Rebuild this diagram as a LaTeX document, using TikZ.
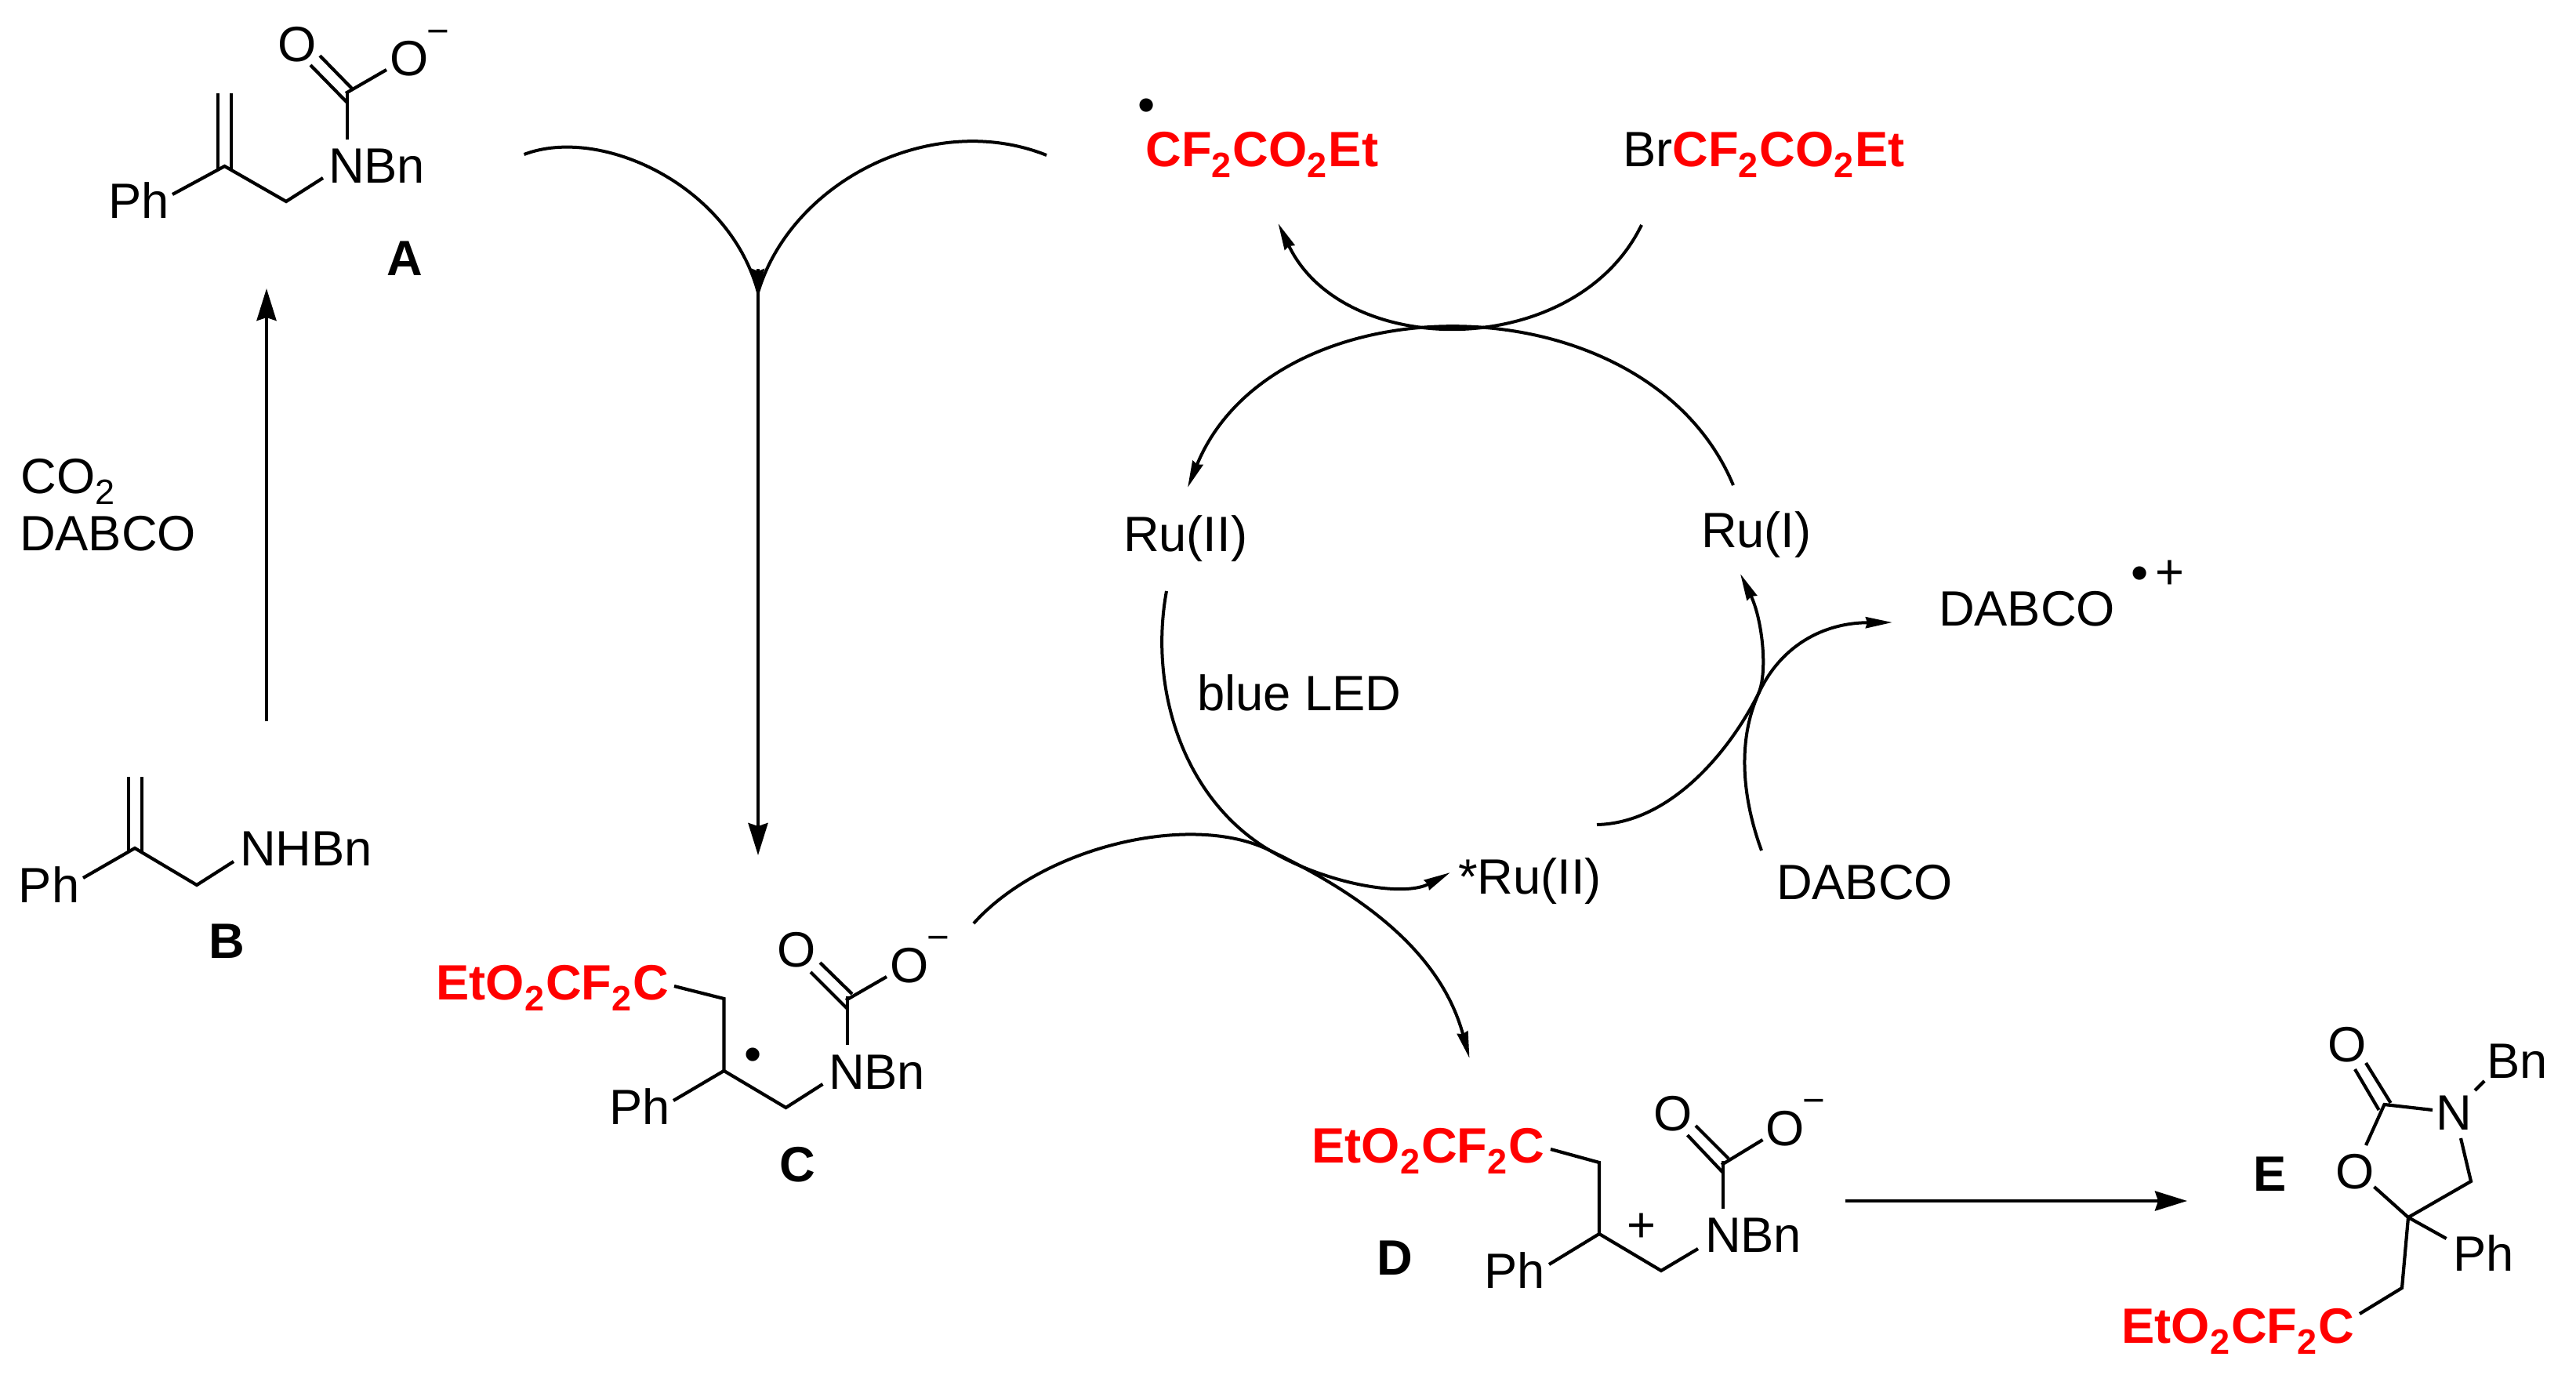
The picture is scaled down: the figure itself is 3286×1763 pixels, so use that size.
\documentclass[tikz,border=0pt]{standalone}
\usepackage{fontspec}
\setmainfont[Kerning=Off]{Liberation Sans}
\usetikzlibrary{arrows.meta}
\newcommand{\lowtwo}{\raisebox{-.14cm}{\fontsize{12.8}{14}\selectfont 2}\kern.02cm}
\newcommand{\redchain}{\textcolor{red}{\bfseries EtO\lowtwo CF\lowtwo C}}
\newcommand{\redester}{\textcolor{red}{\bfseries CF\lowtwo CO\lowtwo Et}}
\tikzset{
  txt/.style={anchor=base west,inner sep=0pt,outer sep=0pt,font=\fontsize{18}{20}\selectfont},
  lab/.style={txt,font=\fontsize{18}{20}\selectfont\bfseries},
  glyphmark/.style={anchor=center,inner sep=0pt,outer sep=0pt,font=\fontsize{18}{20}\selectfont},
  minusmark/.style={anchor=center,inner sep=0pt,outer sep=0pt,font=\fontsize{14}{16}\selectfont},
  bond/.style={line width=.042cm,line join=miter,line cap=butt},
  rxn/.style={line width=.04cm,-{Stealth[length=.41cm,width=.25cm,inset=.04cm]}},
  curly/.style={line width=.04cm,-{Stealth[length=.34cm,width=.14cm,inset=.02cm]}},
  arcline/.style={line width=.04cm},
}
\begin{document}
\begin{tikzpicture}[x=.01cm,y=-.01cm]
\useasboundingbox (0,0) rectangle (3286,1763);
% ---------- texts
\node[txt] (aPh) at (138,278) {Ph};
\node[txt] (aN) at (419,233) {NBn};
\node[txt] (aO1) at (354.5,78) {O};
\node[txt] (aO2) at (497.5,96) {O};
\node[minusmark] (aM) at (559,47) {−};
\node[lab] (aL) at (493,351) {A};
\node[txt] (bPh) at (24,1151) {Ph};
\node[txt] (bN) at (306,1104) {NHBn};
\node[lab] (bL) at (266.5,1222) {B};
\node[txt] (co) at (27,629) {CO\lowtwo};
\node[txt] (dab) at (25,702) {DABCO};
\node[glyphmark] (rad1) at (1463,141) {•};
\node[txt] (rad) at (1461.5,212) {\redester};
\node[txt] (brr) at (2070,212) {Br\redester};
\node[txt] (ru2) at (1433,703) {Ru(II)};
\node[txt] (ru1) at (2170,698) {Ru(I)};
\node[txt] (dabp) at (2473,798) {DABCO};
\node[glyphmark] (dabd) at (2730,737.5) {•};
\node[glyphmark] (dabq) at (2768,733.5) {+};
\node[txt] (led) at (1527,906) {blue LED};
\node[txt] (ruS) at (1860,1140) {*Ru(II)};
\node[txt] (dab2) at (2266,1147) {DABCO};
\node[txt] (cR) at (556.5,1275) {\redchain};
\node[txt] (cO1) at (991.5,1233) {O};
\node[txt] (cO2) at (1135,1253) {O};
\node[minusmark] (cM) at (1197,1203) {−};
\node[glyphmark] (cD) at (961,1352) {•};
\node[txt] (cN) at (1057,1389) {NBn};
\node[txt] (cPh) at (777,1434) {Ph};
\node[lab] (cL) at (994,1507) {C};
\node[txt] (dR) at (1673.5,1483) {\redchain};
\node[txt] (dO1) at (2109.5,1442) {O};
\node[txt] (dO2) at (2252,1461) {O};
\node[minusmark] (dM) at (2314,1411) {−};
\node[glyphmark] (dP) at (2094,1566) {+};
\node[txt] (dN) at (2175,1597) {NBn};
\node[txt] (dPh) at (1893,1643) {Ph};
\node[lab] (dL) at (1756.5,1626) {D};
\node[lab] (eL) at (2874.5,1519) {E};
\node[txt] (eO1) at (2969.5,1354) {O};
\node[txt] (eBn) at (3172,1375) {Bn};
\node[txt] (eN) at (3107,1441) {N};
\node[txt] (eO2) at (2979.5,1516) {O};
\node[txt] (ePh) at (3129,1621) {Ph};
\node[txt] (eR) at (2706.5,1713) {\redchain};
% ---------- molecule A
\coordinate (a1) at (220,248);\coordinate (a2) at (286.5,212);\coordinate (a3) at (365,257);\coordinate (a4) at (412,227);
\coordinate (a5) at (278,119);\coordinate (a6) at (278,216);\coordinate (a7) at (295,119);\coordinate (a8) at (295,216);
\coordinate (a9) at (443,178);\coordinate (a10) at (443,116);\coordinate (a11) at (396,83);\coordinate (a12) at (443,131);
\coordinate (a13) at (408,71);\coordinate (a14) at (449,113);\coordinate (a15) at (441,119);\coordinate (a16) at (493,89);
\draw[bond] (a1)--(a2)--(a3)--(a4);
\draw[bond] (a5)--(a6);\draw[bond] (a7)--(a8);
\draw[bond] (a9)--(a10);\draw[bond] (a11)--(a12);\draw[bond] (a13)--(a14);\draw[bond] (a15)--(a16);
% ---------- molecule B
\coordinate (b1) at (106,1120);\coordinate (b2) at (172,1082);\coordinate (b3) at (251,1129);\coordinate (b4) at (298,1099);
\coordinate (b5) at (164,991);\coordinate (b6) at (164,1087);\coordinate (b7) at (181,991);\coordinate (b8) at (181,1087);
\draw[bond] (b1)--(b2)--(b3)--(b4);
\draw[bond] (b5)--(b6);\draw[bond] (b7)--(b8);
% ---------- molecule C
\coordinate (c1) at (860,1258);\coordinate (c2) at (923.5,1274);\coordinate (c3) at (923.5,1366);\coordinate (c4) at (859,1404);
\coordinate (c5) at (1002.5,1413);\coordinate (c6) at (1049.5,1383);\coordinate (c7) at (1081,1333);\coordinate (c8) at (1081,1271);
\coordinate (c9) at (1034,1240);\coordinate (c10) at (1081,1287);\coordinate (c11) at (1046,1228);\coordinate (c12) at (1087,1268);
\coordinate (c13) at (1079,1276);\coordinate (c14) at (1131,1246);
\draw[bond] (c1)--(c2)--(c3)--(c5)--(c6);\draw[bond] (c4)--(c3);
\draw[bond] (c7)--(c8);\draw[bond] (c9)--(c10);\draw[bond] (c11)--(c12);\draw[bond] (c13)--(c14);
% ---------- molecule D
\coordinate (d1) at (1978,1466);\coordinate (d2) at (2040,1483);\coordinate (d3) at (2040,1574);\coordinate (d4) at (1976,1613);
\coordinate (d5) at (2119,1621);\coordinate (d6) at (2166,1593);\coordinate (d7) at (2198,1542);\coordinate (d8) at (2198,1481);
\coordinate (d9) at (2152.5,1448);\coordinate (d10) at (2198,1496);\coordinate (d11) at (2163,1436);\coordinate (d12) at (2205,1478);
\coordinate (d13) at (2196,1486);\coordinate (d14) at (2248.5,1454);
\draw[bond] (d1)--(d2)--(d3)--(d5)--(d6);\draw[bond] (d4)--(d3);
\draw[bond] (d7)--(d8);\draw[bond] (d9)--(d10);\draw[bond] (d11)--(d12);\draw[bond] (d13)--(d14);
% ---------- molecule E
\coordinate (e1) at (3041.5,1409);\coordinate (e2) at (3004,1364);\coordinate (e3) at (3034.6,1416);\coordinate (e4) at (3018,1356);
\coordinate (e5) at (3049.6,1407);\coordinate (e6) at (3103,1416);\coordinate (e7) at (3018,1461);\coordinate (e8) at (3157,1391);
\coordinate (e9) at (3169,1379);\coordinate (e10) at (3139,1452);\coordinate (e11) at (3152,1507);\coordinate (e12) at (3072,1553);
\coordinate (e13) at (3028.5,1514);\coordinate (e14) at (3120.6,1580);\coordinate (e15) at (3064,1643);\coordinate (e16) at (3010,1676);
\draw[bond] (e2)--(e3);\draw[bond] (e4)--(e5);\draw[bond] (e6)--(e1)--(e7);\draw[bond] (e8)--(e9);
\draw[bond] (e10)--(e11)--(e12)--(e13);\draw[bond] (e12)--(e14);\draw[bond] (e12)--(e15)--(e16);
% ---------- straight arrows
\coordinate (ba) at (340,920);\coordinate (ab) at (340,368);
\draw[rxn] (ba)--(ab);
\coordinate (cuspTop) at (967,343);\coordinate (cusp) at (967,373);\coordinate (cArr) at (967,1091);
\draw[rxn] (cusp)--(cArr);
\draw[line width=.04cm,-{Stealth[length=.3cm,width=.16cm,inset=.03cm]}] (cuspTop)--(cusp);
\coordinate (de) at (2354,1532);\coordinate (ed) at (2790,1532);
\draw[rxn] (de)--(ed);
% ---------- curved arrows
\coordinate (l0) at (668.5,197);\coordinate (r0) at (1335,198);
\draw[arcline] (l0) .. controls (765,160) and (930,235) .. (cusp);
\draw[arcline] (r0) .. controls (1190,140) and (1010,230) .. (cusp);
\coordinate (brS) at (2094,287);\coordinate (radT) at (1630.5,285);
\draw[curly] (brS) .. controls (2010,460) and (1714,460) .. (radT);
\coordinate (ru1S) at (2211,619);\coordinate (ru2T) at (1515,622);
\draw[curly] (ru1S) .. controls (2100,353) and (1625,353) .. (ru2T);
\coordinate (ru2S) at (1488,754);\coordinate (mrg) at (1620,1085);\coordinate (ruST) at (1850,1113);
\draw[curly] (ru2S) .. controls (1465,880) and (1510,1020) .. (mrg) .. controls (1690,1127) and (1790,1145) .. (ruST);
\coordinate (cS) at (1242,1178);\coordinate (dT) at (1874.5,1350);
\draw[curly] (cS) .. controls (1330,1080) and (1520,1035) .. (mrg) .. controls (1720,1133) and (1835,1205) .. (dT);
\coordinate (ruSS) at (2037,1052);\coordinate (rM) at (2242,887);\coordinate (ru1T) at (2220,732);
\draw[curly] (ruSS) .. controls (2130,1050) and (2205,960) .. (rM) .. controls (2256,860) and (2248,790) .. (ru1T);
\coordinate (dabS) at (2247,1085);\coordinate (dabT) at (2414,794);
\draw[curly] (dabS) .. controls (2185,915) and (2265,795) .. (dabT);
\end{tikzpicture}
\end{document}
